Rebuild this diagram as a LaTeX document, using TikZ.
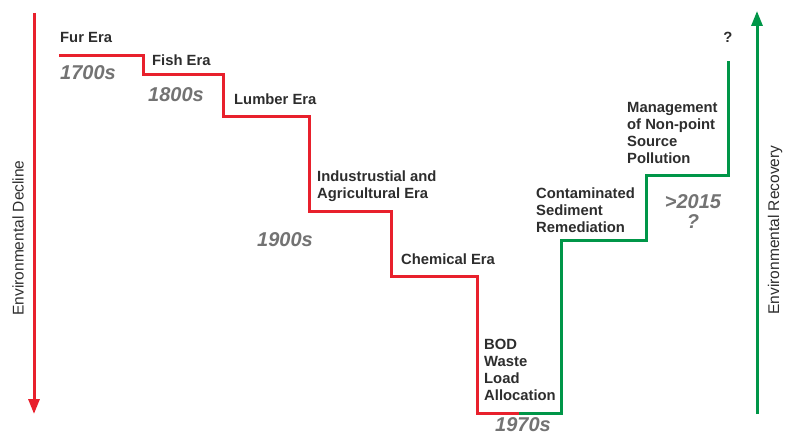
\documentclass[tikz,border=0pt]{standalone}
\usepackage{fontspec}
\setmainfont{Liberation Sans}
\usetikzlibrary{arrows.meta}
\definecolor{stepred}{RGB}{232,32,44}
\definecolor{stepgreen}{RGB}{0,150,72}
\definecolor{txtdark}{RGB}{45,45,45}
\definecolor{yeargrey}{RGB}{115,115,115}
\tikzset{
  era/.style={inner sep=0pt, anchor=base west, align=left, text=txtdark,
    font=\fontsize{14.8}{16.8}\selectfont\bfseries},
  year/.style={inner sep=0pt, anchor=base west, text=yeargrey,
    font=\fontsize{20}{22}\selectfont\bfseries\itshape},
  side/.style={inner sep=0pt, rotate=90, text=txtdark,
    font=\fontsize{15.5}{17}\selectfont},
  redline/.style={draw=stepred, line width=3pt},
  greenline/.style={draw=stepgreen, line width=3pt},
}
\begin{document}
\begin{tikzpicture}[x=1pt,y=-1pt]
\useasboundingbox (0,0) rectangle (793,436);
% side arrows
\coordinate (dtop) at (34,13);
\coordinate (dbot) at (34,414);
\coordinate (rbot) at (757,414);
\coordinate (rtop) at (757,11);
\draw[redline, -{Triangle[width=11pt,length=15pt]}] (dtop) -- (dbot);
\draw[greenline, -{Triangle[width=11pt,length=15pt]}] (rbot) -- (rtop);
\node[side] (decl) at (18,238) {Environmental Decline};
\node[side] (recov) at (775,230) {Environmental Recovery};
% staircases
\draw[redline, line join=miter] (59,56) -- (143,56) -- (143,75) -- (223,75) -- (223,116)
  -- (309,116) -- (309,211) -- (391,211) -- (391,276) -- (477,276) -- (477,413) -- (519,413);
\draw[greenline, line join=miter] (519,413) -- (561,413) -- (561,240) -- (646,240)
  -- (646,175) -- (728,175) -- (728,61);
% era labels (base anchor = baseline of the last line)
\node[era] (fur) at (60,43) {Fur Era};
\node[era] (fish) at (152,66) {Fish Era};
\node[era] (lumber) at (234,105) {Lumber Era};
\node[era] (indus) at (317,198) {Industrustial and\\Agricultural Era};
\node[era] (chem) at (401,264) {Chemical Era};
\node[era] (bod) at (484,400) {BOD\\Waste\\Load\\Allocation};
\node[era] (sed) at (536,232) {Contaminated\\Sediment\\Remediation};
\node[era] (nps) at (627,163) {Management\\of Non-point\\Source\\Pollution};
\node[era, anchor=base] (qtop) at (728,43) {?};
% years
\node[year] (y1700) at (60,80) {1700s};
\node[year] (y1800) at (148,102) {1800s};
\node[year] (y1900) at (257,246) {1900s};
\node[year] (y1970) at (495,431) {1970s};
\node[year, anchor=base] (y2015) at (693,208) {>2015};
\node[year, anchor=base] (yq) at (693,228) {?};
\end{tikzpicture}
\end{document}
